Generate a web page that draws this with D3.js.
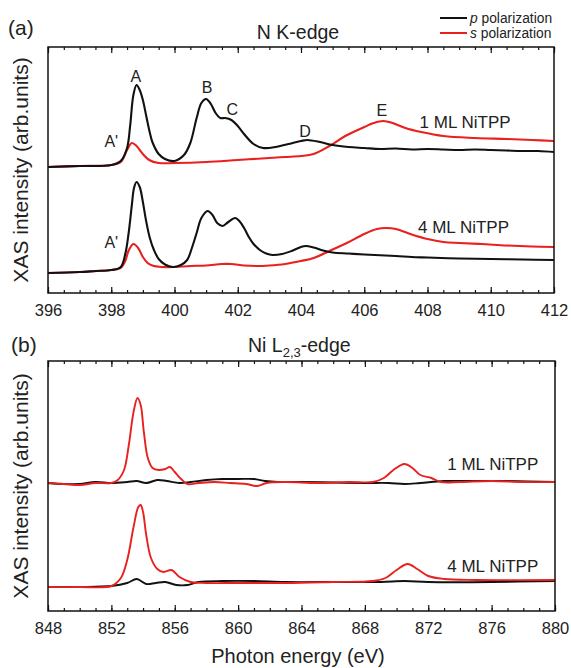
<!DOCTYPE html>
<html>
<head>
<meta charset="utf-8">
<script src="https://cdn.jsdelivr.net/npm/d3@7"></script>
<style>
  html, body { margin: 0; padding: 0; background: #fff; }
  svg { display: block; font-family: "Liberation Sans", Arial, sans-serif; }
</style>
</head>
<body>
<svg id="chart" width="571" height="668"></svg>
<script>
// ---- N K-edge spectra: [photon energy (eV), intensity (arb. units)] ----
const nK1MLp = [[396,2.52],[397,2.54],[398,2.56],[398.3,2.64],[398.5,2.9],[398.6,3.36],[398.7,3.96],[398.8,4.16],[398.9,4.06],[399,3.86],[399.1,3.56],[399.2,3.26],[399.3,3.02],[399.5,2.78],[399.7,2.68],[400,2.64],[400.3,2.76],[400.5,3.0],[400.7,3.5],[400.85,3.8],[401,3.88],[401.15,3.78],[401.3,3.6],[401.45,3.5],[401.6,3.5],[401.8,3.46],[402,3.34],[402.2,3.18],[402.5,2.98],[402.8,2.9],[403.2,2.92],[403.6,2.98],[404,3.04],[404.2,3.06],[404.6,3.02],[405,2.96],[405.5,2.92],[406,2.9],[406.5,2.88],[407,2.89],[407.5,2.87],[408,2.88],[408.5,2.87],[409,2.86],[409.5,2.87],[410,2.86],[410.5,2.85],[411,2.84],[411.5,2.84],[412,2.82]];
const nK1MLs = [[396,2.52],[397,2.54],[398,2.56],[398.3,2.62],[398.5,2.86],[398.65,3.0],[398.8,2.94],[399,2.78],[399.2,2.66],[399.5,2.6],[400,2.6],[401,2.62],[402,2.66],[403,2.7],[403.5,2.72],[404,2.74],[404.4,2.78],[404.9,2.94],[405.4,3.14],[406,3.32],[406.3,3.4],[406.6,3.44],[406.9,3.4],[407.3,3.3],[407.8,3.22],[408.5,3.14],[409.5,3.1],[410.5,3.08],[411.3,3.06],[412,3.04]];
const nK4MLp = [[396,0.4],[397,0.42],[397.5,0.44],[398,0.46],[398.3,0.52],[398.45,0.8],[398.55,1.2],[398.65,1.75],[398.72,2.1],[398.8,2.22],[398.9,2.12],[399,1.82],[399.1,1.45],[399.22,1.1],[399.35,0.86],[399.5,0.68],[399.7,0.57],[399.95,0.52],[400.2,0.56],[400.4,0.66],[400.55,0.9],[400.7,1.2],[400.85,1.5],[401.05,1.64],[401.2,1.56],[401.35,1.4],[401.52,1.34],[401.7,1.42],[401.92,1.5],[402.05,1.44],[402.2,1.3],[402.35,1.12],[402.5,0.98],[402.7,0.86],[402.9,0.79],[403.1,0.76],[403.4,0.78],[403.7,0.84],[404,0.92],[404.15,0.94],[404.4,0.91],[404.7,0.85],[405,0.81],[405.5,0.79],[406,0.77],[407,0.74],[407.5,0.72],[408,0.71],[409,0.69],[410,0.68],[411,0.67],[412,0.66]];
const nK4MLs = [[396,0.4],[397,0.42],[398,0.46],[398.3,0.5],[398.45,0.65],[398.55,0.85],[398.7,0.98],[398.85,0.9],[399,0.72],[399.15,0.6],[399.3,0.55],[399.6,0.52],[400,0.52],[400.5,0.54],[401,0.55],[401.5,0.58],[401.8,0.58],[402.2,0.55],[402.6,0.54],[403,0.55],[403.5,0.58],[404,0.64],[404.4,0.7],[404.9,0.84],[405.45,1.0],[406,1.18],[406.4,1.28],[406.7,1.3],[407,1.28],[407.5,1.17],[408,1.08],[408.5,1.02],[409,1.0],[409.7,0.98],[410.5,0.95],[411.3,0.93],[412,0.92]];

// ---- Ni L2,3-edge spectra ----
const niL1MLp = [[848,2.56],[849,2.54],[850,2.54],[851,2.58],[852,2.56],[853,2.58],[853.6,2.6],[854.2,2.56],[854.9,2.62],[855.5,2.6],[856.3,2.56],[857,2.58],[858,2.62],[859,2.64],[860,2.64],[861,2.64],[861.7,2.6],[862.5,2.58],[864,2.58],[866,2.57],[868,2.56],[869.5,2.56],[870.5,2.54],[871.5,2.56],[873,2.6],[875,2.6],[877,2.6],[880,2.58]];
const niL1MLs = [[848,2.56],[849,2.54],[850,2.52],[851,2.56],[852,2.56],[852.4,2.62],[852.8,2.82],[853.1,3.32],[853.4,3.98],[853.65,4.26],[853.85,4.12],[854.05,3.58],[854.3,3.06],[854.6,2.86],[855,2.82],[855.4,2.84],[855.7,2.88],[856,2.78],[856.4,2.64],[856.8,2.54],[857.5,2.56],[858.5,2.58],[859.5,2.56],[860.5,2.54],[861.2,2.5],[861.8,2.56],[863,2.58],[865,2.56],[867,2.58],[868.5,2.58],[869.2,2.66],[869.8,2.82],[870.5,2.94],[871,2.86],[871.5,2.72],[872.2,2.66],[872.8,2.58],[874,2.58],[876,2.6],[878,2.58],[880,2.58]];
const niL4MLp = [[848,0.48],[850,0.48],[852,0.5],[853,0.56],[853.6,0.64],[854.2,0.54],[854.8,0.56],[855.4,0.58],[856.1,0.52],[856.8,0.52],[857.5,0.58],[859,0.6],[861,0.6],[863,0.58],[866,0.58],[869,0.58],[870.5,0.6],[872,0.58],[876,0.58],[880,0.6]];
const niL4MLs = [[848,0.48],[850,0.48],[852,0.5],[852.6,0.66],[853,1.02],[853.4,1.68],[853.7,2.08],[853.85,2.12],[854,1.98],[854.2,1.52],[854.5,1.06],[854.9,0.84],[855.3,0.78],[855.8,0.82],[856.3,0.68],[857,0.58],[858,0.56],[860,0.56],[863,0.56],[866,0.58],[868.5,0.6],[869.3,0.66],[870,0.82],[870.7,0.94],[871.3,0.84],[872,0.7],[873,0.64],[875,0.62],[880,0.62]];

// ---- tick values ----
const nKMajor = [396,398,400,402,404,406,408,410,412];
const nKMinor = d3.range(396, 412.01, 0.5);
const niLMajor = [848,852,856,860,864,868,872,876,880];
const niLMinor = d3.range(848, 880.01, 1);

const BLACK = "#111111", RED = "#e8201e";
const FONT = '"Liberation Sans", Arial, sans-serif';

const svg = d3.select("#chart");

function drawPanel(cfg) {
  const x = d3.scaleLinear().domain(cfg.xDomain).range([cfg.left, cfg.right]);
  const y = d3.scaleLinear().domain(cfg.yDomain).range([cfg.bottom, cfg.top]);
  const g = svg.append("g");

  const line = d3.line()
    .x(d => x(d[0])).y(d => y(d[1]))
    .curve(d3.curveCatmullRom.alpha(0.5));

  cfg.series.forEach(s => {
    g.append("path").datum(s.data)
      .attr("fill", "none").attr("stroke", s.color)
      .attr("stroke-width", cfg.lineWidth)
      .attr("stroke-linejoin", "round")
      .attr("d", line);
  });

  // inward ticks on bottom and top
  const bottomMajor = d3.axisBottom(x).tickValues(cfg.major).tickSize(-6).tickPadding(11).tickFormat(d3.format("d"));
  const bottomMinor = d3.axisBottom(x).tickValues(cfg.minor).tickSize(-3).tickFormat("");
  const topMajor = d3.axisTop(x).tickValues(cfg.major).tickSize(-6).tickFormat("");
  const topMinor = d3.axisTop(x).tickValues(cfg.minor).tickSize(-3).tickFormat("");

  [[bottomMinor, cfg.bottom], [bottomMajor, cfg.bottom], [topMinor, cfg.top], [topMajor, cfg.top]].forEach(([ax, ty]) => {
    const a = g.append("g").attr("transform", `translate(0,${ty})`).call(ax);
    a.select(".domain").remove();
    a.selectAll(".tick line").attr("stroke", "#111").attr("stroke-width", 1.2);
    a.selectAll(".tick text").attr("font-family", FONT).attr("font-size", 16.5).attr("fill", "#222");
  });

  g.append("rect")
    .attr("x", cfg.left).attr("y", cfg.top)
    .attr("width", cfg.right - cfg.left).attr("height", cfg.bottom - cfg.top)
    .attr("fill", "none").attr("stroke", "#111").attr("stroke-width", 1.5);

  // y axis title
  g.append("text")
    .attr("transform", `translate(28,${(cfg.top + cfg.bottom) / 2}) rotate(-90)`)
    .attr("text-anchor", "middle").attr("font-size", 21).attr("fill", "#222")
    .text("XAS intensity (arb.units)");

  // annotations
  cfg.labels.forEach(l => {
    g.append("text")
      .attr("x", x(l.e)).attr("y", y(l.v))
      .attr("text-anchor", l.anchor || "middle")
      .attr("font-size", l.size || 16).attr("fill", "#222")
      .text(l.text);
  });
  return { x, y, g };
}

drawPanel({
  left: 48, right: 554, top: 47, bottom: 293,
  xDomain: [396, 412], yDomain: [0, 4.92],
  major: nKMajor, minor: nKMinor, lineWidth: 2.1,
  series: [
    { data: nK1MLs, color: RED }, { data: nK1MLp, color: BLACK },
    { data: nK4MLs, color: RED }, { data: nK4MLp, color: BLACK }
  ],
  labels: [
    { text: "A", e: 398.78, v: 4.22 },
    { text: "B", e: 401.03, v: 4.0 },
    { text: "C", e: 401.83, v: 3.56 },
    { text: "D", e: 404.13, v: 3.12 },
    { text: "E", e: 406.56, v: 3.54 },
    { text: "A'", e: 398.0, v: 2.92 },
    { text: "A'", e: 398.0, v: 0.9 },
    { text: "1 ML NiTPP", e: 407.75, v: 3.3, anchor: "start", size: 17 },
    { text: "4 ML NiTPP", e: 407.7, v: 1.2, anchor: "start", size: 17 }
  ]
});

drawPanel({
  left: 48, right: 555, top: 361, bottom: 611,
  xDomain: [848, 880], yDomain: [0, 5],
  major: niLMajor, minor: niLMinor, lineWidth: 1.9,
  series: [
    { data: niL1MLp, color: BLACK }, { data: niL1MLs, color: RED },
    { data: niL4MLp, color: BLACK }, { data: niL4MLs, color: RED }
  ],
  labels: [
    { text: "1 ML NiTPP", e: 873.2, v: 2.82, anchor: "start", size: 17 },
    { text: "4 ML NiTPP", e: 873.2, v: 0.78, anchor: "start", size: 17 }
  ]
});

// panel tags and titles
svg.append("text").attr("x", 8).attr("y", 35).attr("font-size", 21).attr("fill", "#222").text("(a)");
svg.append("text").attr("x", 11).attr("y", 352).attr("font-size", 21).attr("fill", "#222").text("(b)");

svg.append("text").attr("x", 298).attr("y", 39).attr("text-anchor", "middle")
  .attr("font-size", 19.5).attr("fill", "#222").text("N K-edge");

const t2 = svg.append("text").attr("x", 248).attr("y", 352).attr("font-size", 19.5).attr("fill", "#222");
t2.append("tspan").text("Ni L");
t2.append("tspan").attr("font-size", 13).attr("dy", 5).text("2,3");
t2.append("tspan").attr("dy", -5).text("-edge");

// x axis title
svg.append("text").attr("x", 298).attr("y", 663).attr("text-anchor", "middle")
  .attr("font-size", 20).attr("fill", "#222").text("Photon energy (eV)");

// legend
const legend = svg.append("g");
const legendItems = [
  { sym: "p", rest: " polarization", color: BLACK, y: 18 },
  { sym: "s", rest: " polarization", color: RED, y: 33 }
];
legendItems.forEach(it => {
  legend.append("line").attr("x1", 440).attr("x2", 467).attr("y1", it.y).attr("y2", it.y)
    .attr("stroke", it.color).attr("stroke-width", 2);
  const t = legend.append("text").attr("x", 470).attr("y", it.y + 4.5)
    .attr("font-size", 13.8).attr("fill", "#222");
  t.append("tspan").attr("font-style", "italic").text(it.sym);
  t.append("tspan").text(it.rest);
});
</script>
</body>
</html>
